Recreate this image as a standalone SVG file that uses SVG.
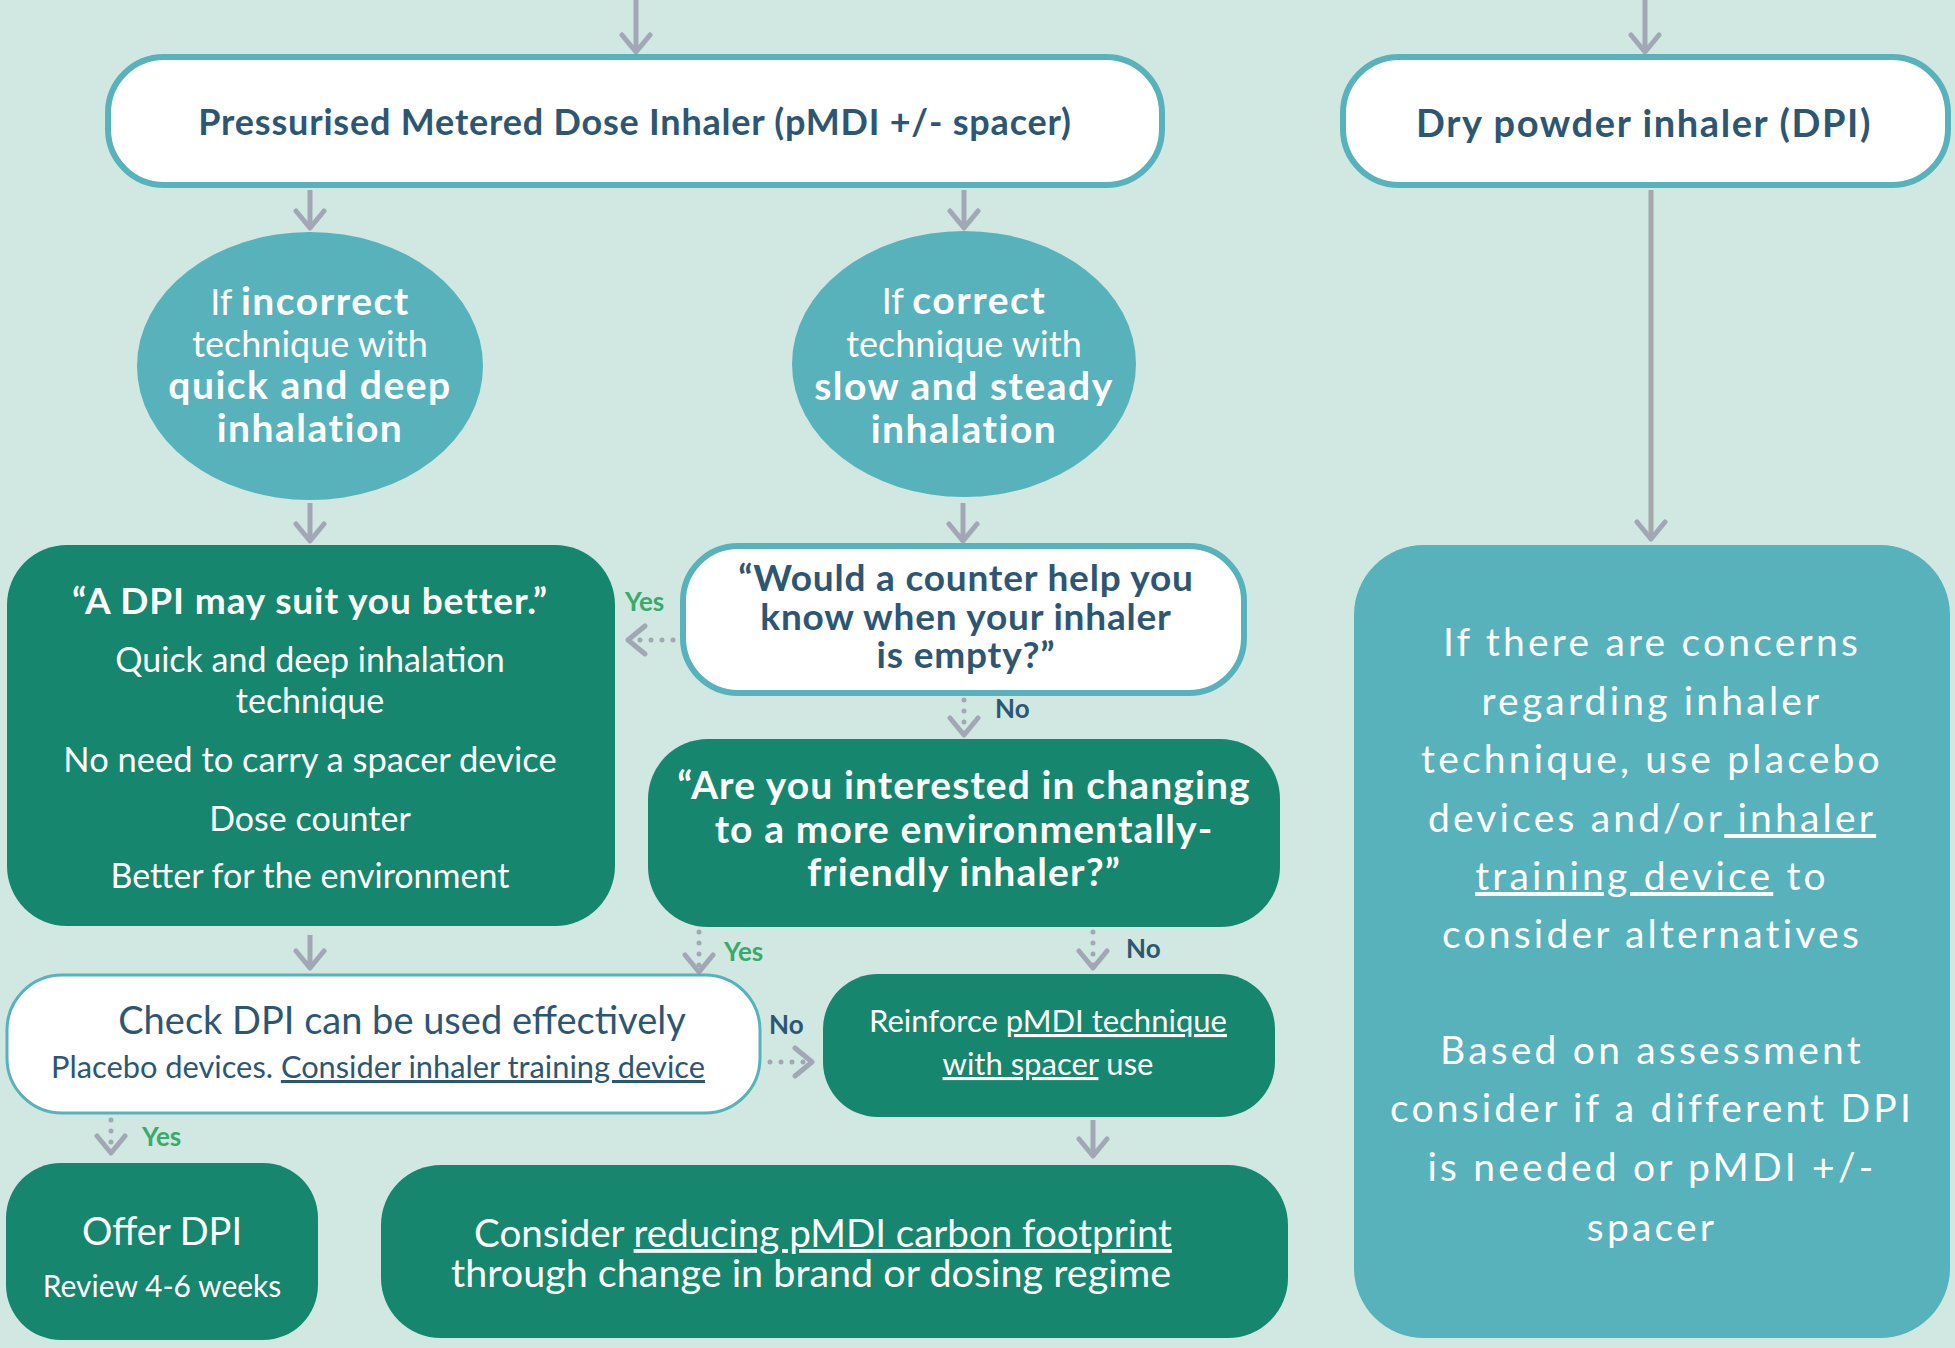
<svg xmlns="http://www.w3.org/2000/svg" width="1955" height="1348" viewBox="0 0 1955 1348">
<style>
text{font-family:Lato,"Liberation Sans",sans-serif;text-anchor:middle}
.nav{fill:#2d5673}
.wh{fill:#ffffff}
.b{font-weight:700}
.wbox{fill:#ffffff;stroke:#57b2bb;stroke-width:6}
.gbox{fill:#16866e}
.tbox{fill:#57b2bb}
.ar{fill:none;stroke:#a2a7b6;stroke-width:5;marker-end:url(#ah)}
.dot{fill:none;stroke:#a2a7b6;stroke-width:5;stroke-linecap:round;stroke-dasharray:0 11;marker-end:url(#ah)}
.lab{font-size:26px;font-weight:700;text-anchor:start}
.yes{fill:#3aaa6c}
.u{text-decoration:underline}
.rt{font-size:39px;fill:#fff;letter-spacing:3.2px}
.ct{font-size:39px;letter-spacing:1.5px}
</style>
<defs>
<marker id="ah" markerUnits="userSpaceOnUse" markerWidth="40" markerHeight="40" viewBox="-20 -20 40 40" refX="0" refY="0" orient="auto">
<path d="M-17,-14 L0,0 L-17,14" fill="none" stroke="#a2a7b6" stroke-width="5" stroke-linecap="round" stroke-linejoin="round"/>
</marker>
</defs>
<rect width="1955" height="1348" fill="#d1e7e1"/>

<g id="connectors">
<line class="ar" x1="636" y1="0" x2="636" y2="52"/>
<line class="ar" x1="1645" y1="0" x2="1645" y2="52"/>
<line class="ar" x1="310" y1="190" x2="310" y2="228"/>
<line class="ar" x1="964" y1="190" x2="964" y2="228"/>
<line class="ar" x1="310" y1="503" x2="310" y2="541"/>
<line class="ar" x1="963" y1="503" x2="963" y2="541"/>
<line class="dot" x1="964" y1="700" x2="964" y2="735"/>
<line class="dot" x1="673" y1="640" x2="628" y2="640"/>
<line class="ar" x1="310" y1="935" x2="310" y2="968"/>
<line class="dot" x1="699" y1="932" x2="699" y2="972"/>
<line class="dot" x1="1093" y1="932" x2="1093" y2="968"/>
<line class="dot" x1="770" y1="1062" x2="812" y2="1062"/>
<line class="dot" x1="111" y1="1120" x2="111" y2="1153"/>
<line class="ar" x1="1093" y1="1120" x2="1093" y2="1156"/>
<line class="ar" x1="1651" y1="190" x2="1651" y2="539" style="stroke:#a6a7ab"/>
<text class="lab yes" x="625" y="611">Yes</text>
<text class="lab nav" x="995" y="718">No</text>
<text class="lab yes" x="724" y="961">Yes</text>
<text class="lab nav" x="1126" y="958">No</text>
<text class="lab nav" x="769" y="1034">No</text>
<text class="lab yes" x="142" y="1146">Yes</text>
</g>

<g id="pmdi">
<rect class="wbox" x="108" y="57" width="1054" height="128" rx="56"/>
<text class="nav b" x="635" y="135" font-size="36" letter-spacing="0.8">Pressurised Metered Dose Inhaler (pMDI +/- spacer)</text>
</g>

<g id="dpi">
<rect class="wbox" x="1343" y="57" width="605" height="128" rx="56"/>
<text class="nav b" x="1644" y="137" font-size="38" letter-spacing="1.6">Dry powder inhaler (DPI)</text>
</g>

<g id="incorrect">
<ellipse class="tbox" cx="310" cy="366" rx="173" ry="134"/>
<text class="wh" font-size="36" x="310" y="315">If <tspan class="b ct">incorrect</tspan></text>
<text class="wh" font-size="36" x="310" y="357">technique with</text>
<text class="wh b ct" x="310" y="399">quick and deep</text>
<text class="wh b ct" x="310" y="442">inhalation</text>
</g>

<g id="correct">
<ellipse class="tbox" cx="964" cy="364" rx="172" ry="133"/>
<text class="wh" font-size="36" x="964" y="314">If <tspan class="b ct">correct</tspan></text>
<text class="wh" font-size="36" x="964" y="357">technique with</text>
<text class="wh b ct" x="964" y="400" letter-spacing="2.1">slow and steady</text>
<text class="wh b ct" x="964" y="443">inhalation</text>
</g>

<g id="counter">
<rect class="wbox" x="683" y="546" width="561" height="147" rx="55"/>
<text class="nav b" font-size="37" letter-spacing="0.8" x="966" y="591">“Would a counter help you</text>
<text class="nav b" font-size="37" letter-spacing="0.8" x="966" y="630">know when your inhaler</text>
<text class="nav b" font-size="37" letter-spacing="0.8" x="966" y="668">is empty?”</text>
</g>

<g id="dpi-suit">
<rect class="gbox" x="7" y="545" width="608" height="381" rx="60"/>
<text class="wh b" font-size="37" letter-spacing="0.9" x="310" y="614">“A DPI may suit you better.”</text>
<text class="wh" font-size="34" x="310" y="672">Quick and deep inhalation</text>
<text class="wh" font-size="34" x="310" y="713">technique</text>
<text class="wh" font-size="34.5" x="310" y="772">No need to carry a spacer device</text>
<text class="wh" font-size="34" x="310" y="831">Dose counter</text>
<text class="wh" font-size="34" x="310" y="888">Better for the environment</text>
</g>

<g id="environment">
<rect class="gbox" x="648" y="739" width="632" height="188" rx="60"/>
<text class="wh b" font-size="39" letter-spacing="1.1" x="964" y="799">“Are you interested in changing</text>
<text class="wh b" font-size="39" letter-spacing="1.1" x="964" y="843">to a more environmentally-</text>
<text class="wh b" font-size="39" letter-spacing="1.1" x="964" y="886">friendly inhaler?”</text>
</g>

<g id="check">
<rect x="7" y="975" width="753" height="138" rx="55" fill="#fff" stroke="#57b2bb" stroke-width="3"/>
<text class="nav" font-size="38" x="402" y="1034">Check DPI can be used effectively</text>
<text class="nav" font-size="30.8" x="378" y="1078">Placebo devices. <tspan class="u">Consider inhaler training device</tspan></text>
</g>

<g id="reinforce">
<rect class="gbox" x="823" y="974" width="452" height="143" rx="55"/>
<text class="wh" font-size="31" x="1048" y="1032">Reinforce <tspan class="u">pMDI technique</tspan></text>
<text class="wh" font-size="31" x="1048" y="1075"><tspan class="u">with spacer</tspan> use</text>
</g>

<g id="offer">
<rect class="gbox" x="6" y="1163" width="312" height="177" rx="55"/>
<text class="wh" font-size="38" x="162" y="1245">Offer DPI</text>
<text class="wh" font-size="30" x="162" y="1297">Review 4-6 weeks</text>
</g>

<g id="consider">
<rect class="gbox" x="381" y="1165" width="907" height="173" rx="60"/>
<text class="wh" font-size="38.5" x="823" y="1247">Consider <tspan class="u">reducing pMDI carbon footprint</tspan></text>
<text class="wh" font-size="39.5" x="811" y="1287">through change in brand or dosing regime</text>
</g>

<g id="dpi-concerns">
<rect class="tbox" x="1354" y="545" width="596" height="793" rx="70"/>
<text class="rt" x="1652" y="656">If there are concerns</text>
<text class="rt" x="1652" y="715">regarding inhaler</text>
<text class="rt" x="1652" y="773">technique, use placebo</text>
<text class="rt" x="1652" y="832">devices and/or<tspan class="u"> inhaler</tspan></text>
<text class="rt" x="1652" y="890"><tspan class="u">training device</tspan> to</text>
<text class="rt" x="1652" y="948">consider alternatives</text>
<text class="rt" x="1652" y="1064">Based on assessment</text>
<text class="rt" x="1652" y="1122">consider if a different DPI</text>
<text class="rt" x="1652" y="1181">is needed or pMDI +/-</text>
<text class="rt" x="1652" y="1241">spacer</text>
</g>
</svg>
